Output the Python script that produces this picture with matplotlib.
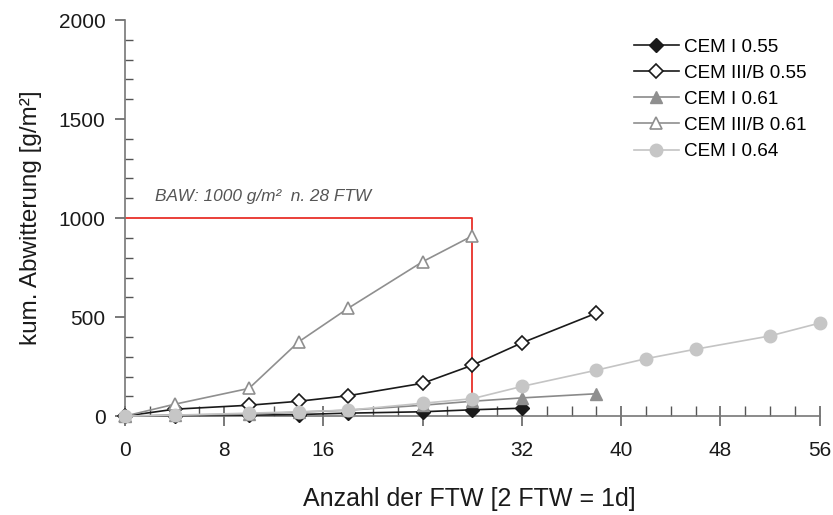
import matplotlib
matplotlib.use("Agg")
import matplotlib.pyplot as plt
from matplotlib.ticker import MultipleLocator

plt.rcParams['font.family'] = ['Liberation Sans', 'DejaVu Sans']

# Data
x_cem1_055 = [0, 4, 10, 14, 18, 24, 28, 32]
y_cem1_055 = [0, 3, 5, 8, 15, 22, 32, 40]

x_cem3_055 = [0, 4, 10, 14, 18, 24, 28, 32, 38]
y_cem3_055 = [0, 35, 55, 75, 103, 166, 257, 370, 520]

x_cem1_061 = [0, 4, 10, 14, 18, 24, 28, 32, 38]
y_cem1_061 = [0, 5, 10, 20, 30, 55, 75, 92, 113]

x_cem3_061 = [0, 4, 10, 14, 18, 24, 28]
y_cem3_061 = [0, 60, 140, 375, 545, 780, 910]

x_cem1_064 = [0, 4, 10, 14, 18, 24, 28, 32, 38, 42, 46, 52, 56]
y_cem1_064 = [0, 5, 15, 22, 30, 65, 88, 150, 232, 290, 338, 405, 470]

labels = ["CEM I 0.55", "CEM III/B 0.55", "CEM I 0.61", "CEM III/B 0.61", "CEM I 0.64"]

limit_x = [0, 28, 28]
limit_y = [1000, 1000, 0]
limit_text = "BAW: 1000 g/m²  n. 28 FTW"

fig = plt.figure(figsize=(8.33, 5.15), dpi=100)
ax = fig.add_axes([0.150, 0.192, 0.834, 0.769])

ax.plot(limit_x, limit_y, color='#e8302a', lw=1.3, zorder=1, clip_on=False)

ax.plot(x_cem1_055, y_cem1_055, color='#1a1a1a', lw=1.2, marker='D', ms=7,
        mfc='#1a1a1a', mec='#1a1a1a', label=labels[0], zorder=3, clip_on=False)
ax.plot(x_cem3_055, y_cem3_055, color='#1a1a1a', lw=1.2, marker='D', ms=7,
        mfc='white', mec='#1a1a1a', mew=1.2, label=labels[1], zorder=4, clip_on=False)
ax.plot(x_cem1_061, y_cem1_061, color='#8a8a8a', lw=1.2, marker='^', ms=8,
        mfc='#8f8f8f', mec='#8f8f8f', label=labels[2], zorder=5, clip_on=False)
ax.plot(x_cem3_061, y_cem3_061, color='#8f8f8f', lw=1.2, marker='^', ms=9,
        mfc='white', mec='#8f8f8f', mew=1.2, label=labels[3], zorder=6, clip_on=False)
ax.plot(x_cem1_064, y_cem1_064, color='#c4c4c4', lw=1.2, marker='o', ms=9,
        mfc='#c6c6c6', mec='#c6c6c6', label=labels[4], zorder=7, clip_on=False)

ax.text(2.4, 1110, limit_text, fontsize=12.4, style='italic', color='#555555',
        ha='left', va='center')

ax.set_xlim(0, 56)
ax.set_ylim(0, 2000)
ax.xaxis.set_major_locator(MultipleLocator(8))
ax.xaxis.set_minor_locator(MultipleLocator(2))
ax.yaxis.set_major_locator(MultipleLocator(500))
ax.yaxis.set_minor_locator(MultipleLocator(100))

for s in ['top', 'right']:
    ax.spines[s].set_visible(False)
for s in ['left', 'bottom']:
    ax.spines[s].set_color('#777777')
    ax.spines[s].set_linewidth(1.2)

ax.tick_params(axis='x', which='major', direction='inout', length=14, width=1.1,
               color='#555555', labelsize=15, pad=11, labelcolor='#1a1a1a')
ax.tick_params(axis='x', which='minor', direction='in', length=7, width=1.0, color='#555555')
ax.tick_params(axis='y', which='major', direction='out', length=7, width=1.1,
               color='#555555', labelsize=15, pad=7, labelcolor='#1a1a1a')
ax.tick_params(axis='y', which='minor', direction='in', length=6, width=1.0, color='#555555')

ax.set_xlabel("Anzahl der FTW [2 FTW = 1d]", fontsize=18, color='#1a1a1a')
ax.set_ylabel("kum. Abwitterung [g/m²]", fontsize=17.5, color='#1a1a1a')
ax.xaxis.set_label_coords(0.495, -0.18)
ax.yaxis.set_label_coords(-0.12, 0.5)

leg = ax.legend(loc='upper right', bbox_to_anchor=(0.997, 0.982), frameon=False,
                fontsize=13.6, handlelength=2.4, handletextpad=0.25, labelspacing=0.47,
                borderaxespad=0.2)

fig.savefig("out.png", dpi=100)
